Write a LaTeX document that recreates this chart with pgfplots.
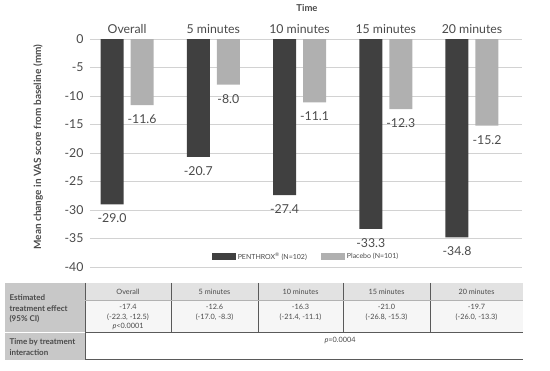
\documentclass[border=0pt]{standalone}
\usepackage{pgfplots}
\pgfplotsset{compat=1.18}
\usepackage{fontspec}
\setmainfont{Lato}
\definecolor{darkbar}{HTML}{404040}
\definecolor{lightbar}{HTML}{B0B0B0}
\definecolor{txt}{HTML}{4A4A4A}
\definecolor{leftcol}{HTML}{C8C8C8}
\definecolor{headrow}{HTML}{E2E2E2}
\definecolor{valrow}{HTML}{F6F6F6}
\definecolor{rule}{HTML}{5A5A5A}
\begin{document}
\begin{tikzpicture}[x=1pt,y=1pt]
\path (0,0) rectangle (550,-371);
\begin{axis}[
  at={(90pt,-267pt)}, anchor=south west,
  scale only axis, width=432pt, height=228pt,
  ybar=7pt, bar width=23pt,
  xmin=-0.43, xmax=4.58, ymin=-40, ymax=0,
  xtick={0,1,2,3,4},
  xticklabels={Overall,5 minutes,10 minutes,15 minutes,20 minutes},
  xticklabel pos=upper,
  ytick={-40,-35,...,0},
  ymajorgrids, grid style={draw=gray!35, line width=0.9pt},
  axis line style={draw=none}, tick style={draw=none},
  /pgf/number format/assume math mode=true,
  ticklabel style={font=\fontsize{12.3}{14}\selectfont, text=txt},
  yticklabel style={xshift=-3pt},
  xticklabel style={yshift=-2pt},
  nodes near coords,
  every node near coord/.append style={font=\fontsize{12.3}{14}\selectfont, text=txt, yshift=-6pt},
  nodes near coords style={/pgf/number format/.cd, fixed, fixed zerofill, precision=1, assume math mode=true},
  legend style={at={(0.50,0.044)}, anchor=center, draw=none, fill=none,
     font=\fontsize{7}{8}\selectfont, text=txt, legend columns=2,
     /tikz/every even column/.append style={column sep=12pt}},
  legend image code/.code={\fill[#1] (0pt,-3.5pt) rectangle (24pt,3.5pt);},
]
\addplot[fill=darkbar, draw=none] coordinates {(0,-29.0) (1,-20.7) (2,-27.4) (3,-33.3) (4,-34.8)};
\addplot[fill=lightbar, draw=none] coordinates {(0,-11.6) (1,-8.0) (2,-11.1) (3,-12.3) (4,-15.2)};
\legend{PENTHROX\textsuperscript{\textregistered} (N=102), Placebo (N=101)}
\end{axis}
% titles
\node[font=\bfseries\fontsize{9.5}{11}\selectfont, text=txt] at (307,-8) {Time};
\node[font=\bfseries\fontsize{10}{11}\selectfont, text=txt, rotate=90] at (38,-147) {Mean change in VAS score from baseline (mm)};
% table
\fill[leftcol] (5,-283) rectangle (85,-360);
\fill[headrow] (85,-283) rectangle (523,-300);
\fill[valrow] (85,-300) rectangle (523,-333);
\draw[white, line width=1pt] (5,-333) -- (85,-333);
\foreach \x in {171,258,343,430} {\draw[rule, line width=0.8pt] (\x,-283) -- (\x,-333);}
\draw[rule, line width=0.8pt] (85,-283) -- (85,-360);
\draw[gray!60, line width=0.5pt] (85,-300) -- (523,-300);
\draw[rule, line width=1pt] (85,-333) -- (523,-333);
\draw[rule, line width=1pt] (85,-360) -- (523,-360);
\begin{scope}[every node/.style={font=\fontsize{7.3}{9.5}\selectfont, text=txt, align=center}]
\node at (128,-291.5) {Overall};
\node at (214.5,-291.5) {5 minutes};
\node at (300.5,-291.5) {10 minutes};
\node at (386.5,-291.5) {15 minutes};
\node at (476.5,-291.5) {20 minutes};
\node[anchor=north] at (128,-301) {-17.4\\(-22.3, -12.5)\\\textit{p}<0.0001};
\node[anchor=north] at (214.5,-301) {-12.6\\(-17.0, -8.3)};
\node[anchor=north] at (300.5,-301) {-16.3\\(-21.4, -11.1)};
\node[anchor=north] at (386.5,-301) {-21.0\\(-26.8, -15.3)};
\node[anchor=north] at (476.5,-301) {-19.7\\(-26.0, -13.3)};
\node at (340,-340) {\textit{p}=0.0004};
\node[anchor=west, align=left, font=\bfseries\fontsize{8}{10.5}\selectfont] at (6,-309) {Estimated\\treatment effect\\(95\% CI)};
\node[anchor=west, align=left, font=\bfseries\fontsize{8}{10.5}\selectfont] at (6,-347) {Time by treatment\\interaction};
\end{scope}
\end{tikzpicture}
\end{document}
